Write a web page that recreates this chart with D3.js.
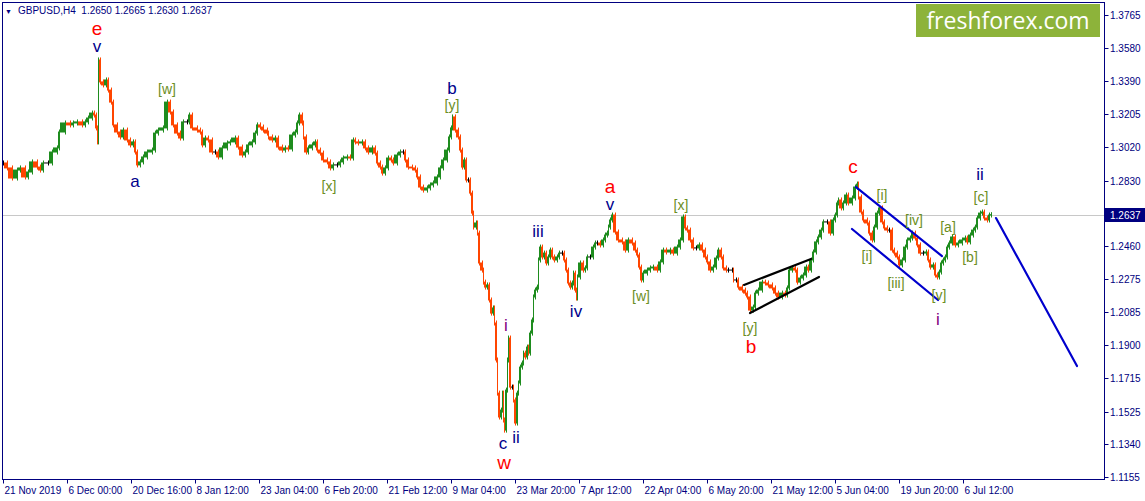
<!DOCTYPE html>
<html><head><meta charset="utf-8">
<script src="https://cdn.jsdelivr.net/npm/d3@7"></script>
<style>body{margin:0;background:#fff;}svg{display:block;}</style>
</head><body><svg id="c" width="1145" height="501"></svg>
<script>
// ---- data (bar index = H4 bar number from 21 Nov 2019) ----
const barIdx = [0,4,9,14,17,22,25,29,34,37,40,45,49,54,56,62,67,70,74,79,82,85,89,91,93,94,95,97,100,103,105,108,110,114,117,120,124,127,130,132,134,137,140,144,149,152,155,160,164,167,170,174,177,180,184,186,189,194,197,199,202,205,209,212,215,219,224,227,232,235,239,242,245,249,252,254,257,260,264,265,269,272,275,279,282,285,289,292,294,296,299,300,303,305,309,312,314,317,320,324,327,330,334,337,340,344,347,350,352,355,359,362,365,369,372,374,377,379,382,385,388,390,394,397,400,402,405,409,412,414,417,420,424,427,430,434,437,440,444,446,448,449,452,455,457,459,461,463,465,467,469,470,473,474,476,479,480,482,484,486,488,490,491,493,494,496,498,499,500,501,503,504,505,507,509,510,512,514,515,517,519,520,522,524,525,527,529,530,532,534,535,537,539,541,543,545,547,549,551,554,556,559,561,563,565,567,569,570,572,573,574,577,580,582,584,587,590,592,594,597,600,602,604,605,607,609,612,615,619,622,625,629,632,634,636,638,640,644,647,650,654,657,660,663,667,670,674,677,680,682,684,687,690,693,696,699,702,704,707,710,713,715,718,720,723,725,729,730,733,735,739,742,744,747,750,752,755,759,762,765,769,772,775,779,782,784,786,789,792,794,797,800,803,805,808,810,813,815,818,820,824,827,830,832,834,835,838,840,843,845,849,852,854,855,858,860,864,866,869,871,874,876,879,881,884,886,889,891,894,896,899,902,904,907,909,912,914,917,920,923,925,927,930,932,934,936,938,940,942,944,946,949,952,955,959,962,964,967,970,972,974,977,979,981,984,986,988];
const closes = [1.2929,1.2901,1.2844,1.2889,1.2901,1.2850,1.2878,1.2935,1.2906,1.2889,1.2929,1.2929,1.2991,1.3014,1.3104,1.3155,1.3144,1.3155,1.3161,1.3144,1.3161,1.3183,1.3211,1.3200,1.3127,1.3048,1.3511,1.3387,1.3370,1.3398,1.3341,1.3273,1.3144,1.3104,1.3076,1.3115,1.3059,1.3031,1.3048,1.2991,1.2918,1.2935,1.2963,1.2991,1.3002,1.3098,1.3115,1.3127,1.3273,1.3217,1.3144,1.3098,1.3070,1.3161,1.3161,1.3200,1.3127,1.3115,1.3104,1.3031,1.3070,1.3059,1.2991,1.2991,1.2963,1.3014,1.3042,1.3048,1.3070,1.3019,1.2974,1.2991,1.3031,1.3048,1.3098,1.3144,1.3132,1.3115,1.3098,1.3076,1.3059,1.3070,1.3019,1.3002,1.3014,1.3008,1.3087,1.3104,1.3155,1.3200,1.3155,1.3076,1.2991,1.3014,1.3031,1.3048,1.3002,1.2985,1.2946,1.2935,1.2901,1.2918,1.2918,1.2935,1.2957,1.2963,1.2957,1.3059,1.3048,1.3042,1.3048,1.3014,1.2991,1.3014,1.2985,1.2929,1.2906,1.2872,1.2901,1.2957,1.2946,1.2929,1.2974,1.2991,1.2991,1.2946,1.2906,1.2901,1.2889,1.2850,1.2793,1.2776,1.2788,1.2805,1.2816,1.2850,1.2901,1.2946,1.3002,1.3076,1.3127,1.3189,1.3115,1.3076,1.3002,1.2906,1.2946,1.2833,1.2833,1.2759,1.2646,1.2567,1.2590,1.2533,1.2364,1.2324,1.2256,1.2228,1.2240,1.2155,1.2081,1.2110,1.2025,1.1816,1.1629,1.1494,1.1533,1.1629,1.1477,1.1420,1.1646,1.1816,1.1940,1.1663,1.1663,1.1590,1.1460,1.1629,1.1686,1.1776,1.1799,1.1855,1.1833,1.1889,1.1855,1.1968,1.2042,1.2172,1.2211,1.2228,1.2381,1.2454,1.2398,1.2420,1.2364,1.2398,1.2437,1.2398,1.2381,1.2398,1.2420,1.2420,1.2381,1.2324,1.2251,1.2228,1.2251,1.2307,1.2211,1.2166,1.2285,1.2364,1.2324,1.2336,1.2398,1.2398,1.2454,1.2477,1.2477,1.2466,1.2494,1.2522,1.2533,1.2567,1.2607,1.2635,1.2539,1.2494,1.2483,1.2437,1.2494,1.2477,1.2437,1.2409,1.2341,1.2268,1.2307,1.2324,1.2336,1.2341,1.2324,1.2370,1.2437,1.2426,1.2437,1.2420,1.2454,1.2494,1.2624,1.2562,1.2550,1.2494,1.2449,1.2449,1.2466,1.2437,1.2398,1.2370,1.2324,1.2341,1.2392,1.2437,1.2398,1.2336,1.2324,1.2324,1.2324,1.2268,1.2268,1.2228,1.2211,1.2194,1.2172,1.2098,1.2115,1.2194,1.2211,1.2256,1.2251,1.2240,1.2223,1.2194,1.2172,1.2194,1.2183,1.2223,1.2324,1.2336,1.2324,1.2256,1.2279,1.2296,1.2341,1.2324,1.2381,1.2426,1.2483,1.2511,1.2550,1.2596,1.2596,1.2533,1.2607,1.2635,1.2703,1.2720,1.2675,1.2703,1.2748,1.2703,1.2731,1.2793,1.2810,1.2737,1.2652,1.2607,1.2590,1.2533,1.2494,1.2567,1.2646,1.2675,1.2596,1.2562,1.2550,1.2550,1.2437,1.2420,1.2398,1.2353,1.2381,1.2454,1.2494,1.2505,1.2533,1.2505,1.2466,1.2420,1.2420,1.2426,1.2381,1.2341,1.2353,1.2296,1.2285,1.2313,1.2364,1.2381,1.2398,1.2454,1.2477,1.2511,1.2466,1.2477,1.2494,1.2505,1.2483,1.2522,1.2550,1.2567,1.2618,1.2646,1.2652,1.2618,1.2607,1.2635,1.2637];

const priceTicks = [1.3765,1.3580,1.3390,1.3205,1.3020,1.2830,1.2460,1.2275,1.2085,1.1900,1.1715,1.1525,1.1340,1.1155];
const timeTickBars = [0,64,128,192,256,320,384,448,512,576,640,704,768,832,896,960];
const timeTickLabels = ["21 Nov 2019","6 Dec 00:00","20 Dec 16:00","8 Jan 12:00","23 Jan 04:00","6 Feb 20:00","21 Feb 12:00","9 Mar 04:00","23 Mar 20:00","7 Apr 12:00","22 Apr 04:00","6 May 20:00","21 May 12:00","5 Jun 04:00","19 Jun 20:00","6 Jul 12:00"];
const lastPrice = 1.2637;
const titleText = "GBPUSD,H4  1.2650 1.2665 1.2630 1.2637";

// wave labels: [bar, price, text, style]
const waveLabels = [
  [94,1.3652,"e","red"],[94,1.3556,"v","navy"],[132,1.2793,"a","navy"],[164,1.3319,"[w]","br"],
  [326,1.2771,"[x]","br"],[449,1.3319,"b","navy"],[449,1.3228,"[y]","br"],
  [503,1.1980,"i","purple"],[500,1.1313,"c","navy"],[501,1.1200,"w","red"],[513,1.1347,"ii","navy"],
  [535,1.2511,"iii","navy"],[573,1.2059,"iv","navy"],[607,1.2759,"a","red"],[607,1.2663,"v","navy"],
  [678,1.2663,"[x]","br"],[638,1.2149,"[w]","br"],[747,1.1968,"[y]","br"],[748,1.1855,"b","red"],
  [850,1.2872,"c","red"],[879,1.2720,"[i]","br"],[864,1.2375,"[i]","br"],[911,1.2579,"[iv]","br"],
  [893,1.2223,"[iii]","br"],[936,1.2155,"[v]","br"],[935,1.2014,"i","purple"],[945,1.2539,"[a]","br"],
  [967,1.2370,"[b]","br"],[978,1.2709,"[c]","br"],[977,1.2833,"ii","navy"]
];
// trend lines: [bar1, price1, bar2, price2, colour]
const trendLines = [
  [741,1.2240,808,1.2387,"black"],[747,1.2081,816,1.2285,"black"],
  [853,1.2793,939,1.2403,"blue"],[849,1.2556,935,1.2155,"blue"],
  [993,1.2618,1074,1.1782,"blue"]
];

// ---- drawing ----
const svg = d3.select("#c");
const L=2.5, T=2.5, R=1104.5, B=479.5;
const x = d3.scaleLinear().domain([0,1101]).range([3,1104]);
const y = d3.scaleLinear().domain([1.1155,1.3765]).range([477,15]);
const AX = "#000080";
const font = "'Liberation Sans', Arial, sans-serif";

svg.append("rect").attr("width",1145).attr("height",501).attr("fill","#fff");

// current price line
svg.append("line").attr("x1",L).attr("x2",R).attr("y1",Math.round(y(lastPrice))+0.5).attr("y2",Math.round(y(lastPrice))+0.5)
  .attr("stroke","#c8c8c8").attr("stroke-width",1);

// bars: body from previous close to close, plus a thin wick line
const g = svg.append("g");
closes.forEach((c,i)=>{
  const prev = i>0 ? closes[i-1] : c;
  const x0 = i>0 ? x(barIdx[i-1])+1 : x(barIdx[i]);
  const x1 = x(barIdx[i])+1;
  const ya = y(prev), yb = y(c);
  const col = c>prev ? "#1e8c1e" : (c<prev ? "#ff4500" : "#000");
  const top = Math.min(ya,yb), h = Math.abs(ya-yb);
  g.append("rect").attr("x",x0).attr("y",top-0.5).attr("width",Math.max(1,x1-x0)).attr("height",h+1).attr("fill",col);
  g.append("rect").attr("x",x1-1).attr("y",top-2.5).attr("width",1).attr("height",h+5).attr("fill",col);
});

// trend lines
trendLines.forEach(t=>{
  svg.append("line").attr("x1",x(t[0])).attr("y1",y(t[1])).attr("x2",x(t[2])).attr("y2",y(t[3]))
    .attr("stroke",t[4]==="blue"?"#0000cd":"#000").attr("stroke-width",2.2).attr("stroke-linecap","round");
});

// wave labels
const styles = {
  red:{fill:"#ff0000",size:19}, navy:{fill:"#00008b",size:17}, purple:{fill:"#800080",size:17}, br:{fill:"#6b8e23",size:14}
};
waveLabels.forEach(w=>{
  const s = styles[w[3]];
  svg.append("text").attr("x",x(w[0])).attr("y",y(w[1])).attr("text-anchor","middle")
    .attr("font-family",font).attr("font-size",s.size).attr("fill",s.fill).text(w[2]);
});

// frame
svg.append("rect").attr("x",L).attr("y",T).attr("width",R-L).attr("height",B-T).attr("fill","none").attr("stroke",AX).attr("stroke-width",1);

// right price axis
const ra = svg.append("g");
priceTicks.forEach(p=>{
  const yy = Math.round(y(p))+0.5;
  ra.append("line").attr("x1",R).attr("x2",R+4).attr("y1",yy).attr("y2",yy).attr("stroke",AX);
  ra.append("text").attr("x",1110).attr("y",yy+3.5).attr("font-family",font).attr("font-size",10).attr("fill",AX).text(p.toFixed(4));
});
const ly = Math.round(y(lastPrice));
svg.append("rect").attr("x",R+0.5).attr("y",ly-7).attr("width",40).attr("height",14).attr("fill",AX);
svg.append("text").attr("x",1110).attr("y",ly+4).attr("font-family",font).attr("font-size",10).attr("fill","#fff").text(lastPrice.toFixed(4));

// bottom time axis
timeTickBars.forEach((b,i)=>{
  const xx = Math.round(x(b))+0.5;
  svg.append("line").attr("x1",xx).attr("x2",xx).attr("y1",B).attr("y2",B+4).attr("stroke",AX);
  svg.append("text").attr("x",xx+1).attr("y",494).attr("font-family",font).attr("font-size",10).attr("fill",AX).text(timeTickLabels[i]);
});

// title
svg.append("text").attr("x",5).attr("y",14).attr("font-family",font).attr("font-size",7).attr("fill",AX).text("▼");
svg.append("text").attr("x",18).attr("y",14).attr("font-family",font).attr("font-size",10).attr("fill",AX).attr("xml:space","preserve").text(titleText);

// logo
svg.append("rect").attr("x",916).attr("y",4).attr("width",184).attr("height",33).attr("fill","#8db33a");
svg.append("text").attr("x",1008).attr("y",29).attr("text-anchor","middle").attr("font-family","'Open Sans', 'Liberation Sans', sans-serif").attr("font-size",23).attr("fill","#fff").text("freshforex.com");
</script></body></html>
